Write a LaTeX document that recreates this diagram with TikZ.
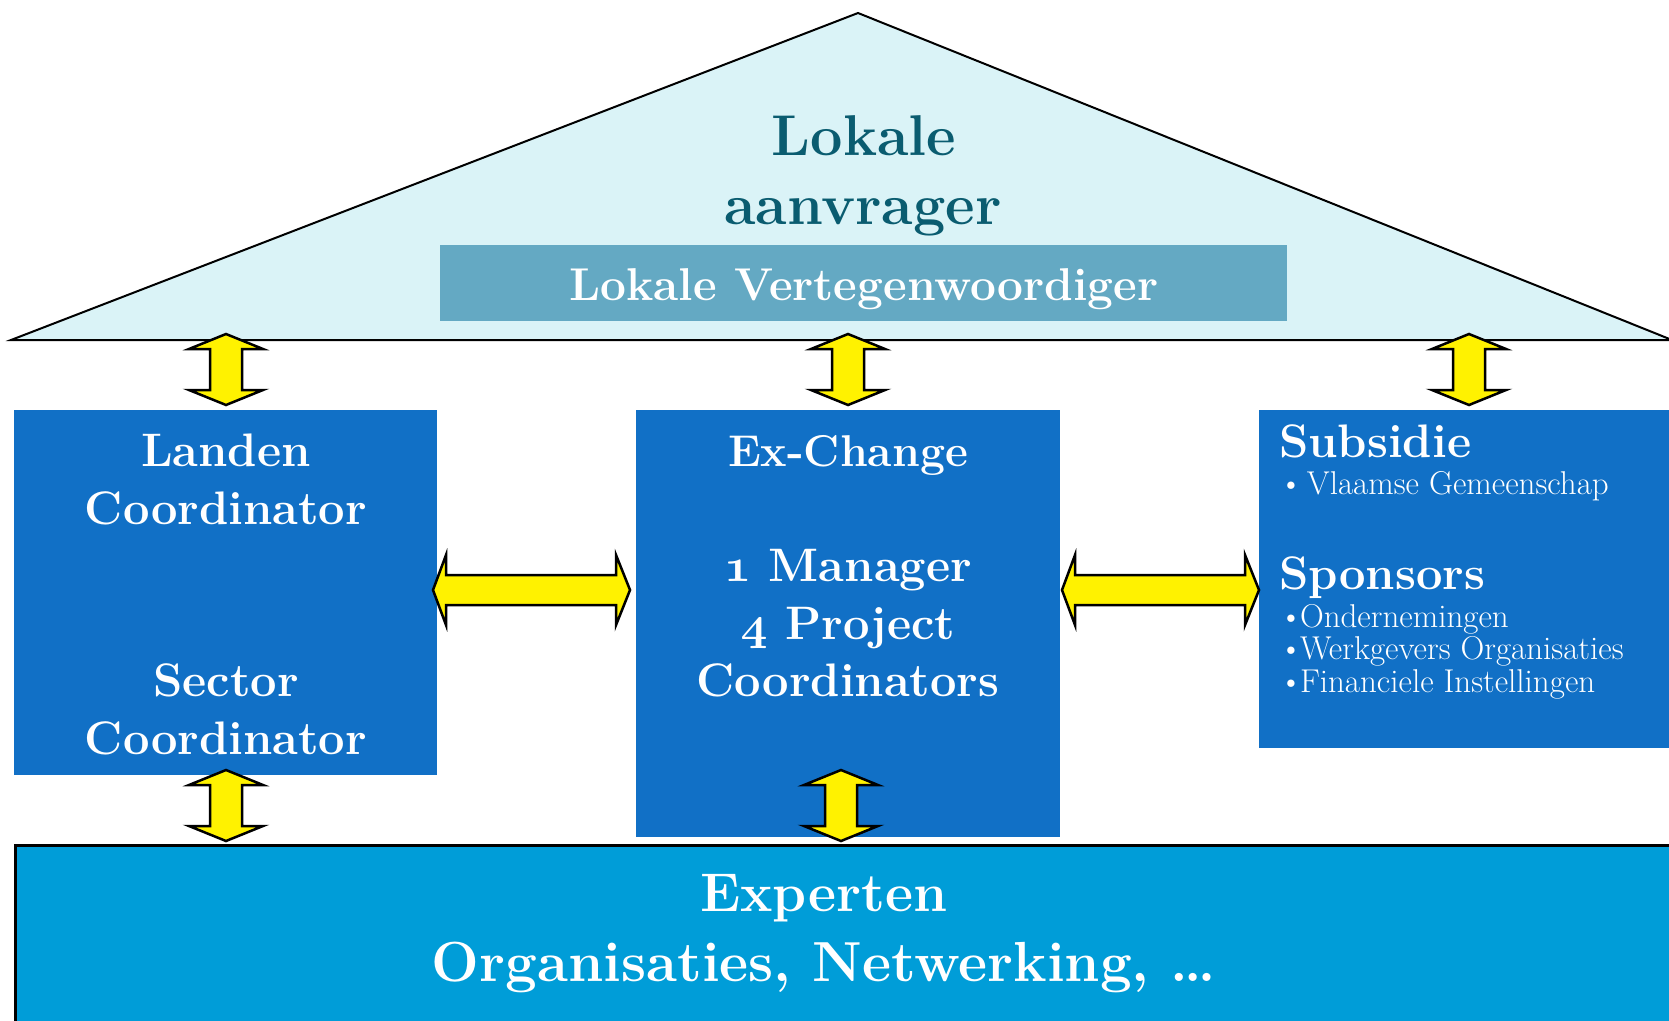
\documentclass[tikz,border=0pt]{standalone}
\usetikzlibrary{calc}
\definecolor{boxblue}{RGB}{17,112,198}
\definecolor{botblue}{RGB}{0,157,216}
\definecolor{roofcyan}{RGB}{218,243,247}
\definecolor{repblue}{RGB}{100,169,195}
\definecolor{tealtxt}{RGB}{10,92,112}
\font\osfont=cmmib10 at 47pt
\newcommand\osf[1]{{\osfont #1}}
\tikzset{
  bluebox/.style={fill=boxblue,draw=none,anchor=north west,inner sep=0pt},
  blockarrow/.style={fill=yellow,draw=black,line width=2.5pt,line join=miter},
  bigtxt/.style={text=white,font=\fontsize{47}{56}\selectfont\bfseries,anchor=base,inner sep=0pt},
  smalltxt/.style={text=white,font=\fontsize{33}{34}\selectfont,anchor=base west,inner sep=0pt},
}
\newcommand\varr[2]{\draw[blockarrow] let \p1=(#1), \p2=(#2) in
  (\x1,\y1) -- ++(37pt,-15pt) -- ++(-21pt,0pt) -- (\x1+16pt,\y2+15pt) -- ++(21pt,0pt) -- (\x1,\y2)
  -- ++(-37pt,15pt) -- ++(21pt,0pt) -- (\x1-16pt,\y1-15pt) -- ++(-21pt,0pt) -- cycle;}
\newcommand\harr[2]{\draw[blockarrow] let \p1=(#1), \p2=(#2) in
  (\x1,\y1) -- ++(13pt,35pt) -- ++(0pt,-20pt) -- (\x2-14pt,\y1+15pt) -- ++(0pt,20pt) -- (\x2,\y1)
  -- ++(-14pt,-35pt) -- ++(0pt,20pt) -- (\x1+13pt,\y1-15pt) -- ++(0pt,-20pt) -- cycle;}
\begin{document}
\begin{tikzpicture}[x=1pt,y=-1pt]
\useasboundingbox[fill=white] (0,0) rectangle (1669,1020);
% roof
\coordinate (roofL) at (11,340);
\coordinate (roofT) at (858,13);
\coordinate (roofR) at (1672,340);
\draw[fill=roofcyan,draw=black,line width=2pt] (roofL) -- (roofT) -- (roofR) -- cycle;
\node[text=tealtxt,font=\fontsize{57.5}{64}\selectfont\bfseries,anchor=base,inner sep=0pt] (lok) at (864,155) {Lokale};
\node[text=tealtxt,font=\fontsize{57.5}{64}\selectfont\bfseries,anchor=base,inner sep=0pt] (aan) at (863,224) {aanvrager};
\node[fill=repblue,anchor=north west,minimum width=847pt,minimum height=76pt,inner sep=0pt] (rep) at (440,245) {};
\node[bigtxt,font=\fontsize{46}{54}\selectfont\bfseries] (reptxt) at (864,300) {Lokale Vertegenwoordiger};
% boxes
\node[bluebox,minimum width=423pt,minimum height=365pt] (lbox) at (14,410) {};
\node[bluebox,minimum width=424pt,minimum height=427pt] (cbox) at (636,410) {};
\node[bluebox,minimum width=412pt,minimum height=338pt] (rbox) at (1259,410) {};
\node[fill=botblue,draw=black,line width=2.5pt,anchor=north west,minimum width=1660pt,minimum height=180pt,inner sep=0pt] (bot) at (14,844) {};
% left box text
\node[bigtxt] (l1) at (226,466) {Landen};
\node[bigtxt] (l2) at (226,524) {Coordinator};
\node[bigtxt] (l3) at (226,696) {Sector};
\node[bigtxt] (l4) at (226,754) {Coordinator};
% center box text
\node[bigtxt,font=\fontsize{44.5}{54}\selectfont\bfseries] (c1) at (848,466) {Ex-Change};
\node[bigtxt] (c2) at (848,581) {\osf{1} Manager};
\node[bigtxt] (c3) at (848,639) {\osf{4} Project};
\node[bigtxt] (c4) at (848,696) {Coordinators};
% right box text
\node[bigtxt,anchor=base west] (r1) at (1279,457) {Subsidie};
\node[smalltxt] (r2) at (1279,494) {\textbullet\kern4pt Vlaamse Gemeenschap};
\node[bigtxt,anchor=base west] (r3) at (1279,589) {Sponsors};
\node[smalltxt] (r4) at (1279,627) {\textbullet\kern-3pt Ondernemingen};
\node[smalltxt] (r5) at (1279,659) {\textbullet\kern-3pt Werkgevers Organisaties};
\node[smalltxt] (r6) at (1279,692) {\textbullet\kern-3pt Financiele Instellingen};
% bottom text
\node[bigtxt,font=\fontsize{54.5}{64}\selectfont\bfseries] (b1) at (824,911) {Experten};
\node[bigtxt,font=\fontsize{56.5}{64}\selectfont\bfseries] (b2) at (824,981) {Organisaties, Netwerking, \dots};
% arrows
\coordinate (a1t) at (226,334); \coordinate (a1b) at (226,405);
\coordinate (a2t) at (848,334); \coordinate (a2b) at (848,405);
\coordinate (a3t) at (1469,334); \coordinate (a3b) at (1469,405);
\coordinate (a4t) at (226,770); \coordinate (a4b) at (226,841);
\coordinate (a5t) at (841,770); \coordinate (a5b) at (841,841);
\coordinate (h1l) at (433,590); \coordinate (h1r) at (630,590);
\coordinate (h2l) at (1062,590); \coordinate (h2r) at (1259,590);
\varr{a1t}{a1b}
\varr{a2t}{a2b}
\varr{a3t}{a3b}
\varr{a4t}{a4b}
\varr{a5t}{a5b}
\harr{h1l}{h1r}
\harr{h2l}{h2r}
\end{tikzpicture}
\end{document}
